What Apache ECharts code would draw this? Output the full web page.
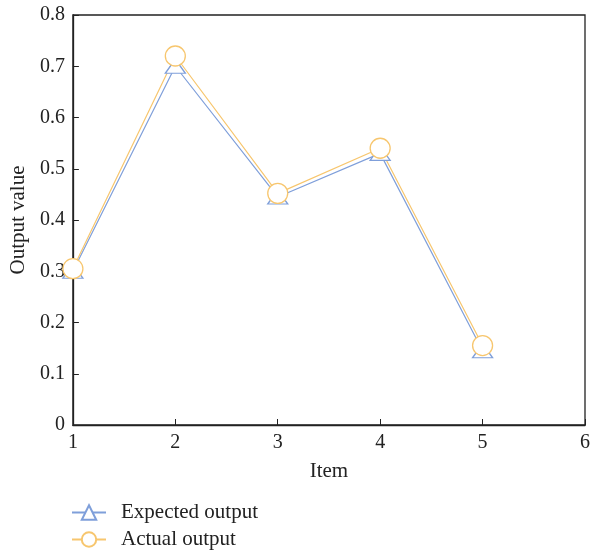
<!DOCTYPE html>
<html><head><meta charset="utf-8">
<script src="https://cdn.jsdelivr.net/npm/echarts@6/dist/echarts.min.js"></script>
<style>html,body{margin:0;padding:0;background:#fff}#c{width:593px;height:552px}</style>
</head><body><div id="c"></div>
<script>
const items = [1, 2, 3, 4, 5];
const expectedOutput = [0.30, 0.70, 0.445, 0.53, 0.145];
const actualOutput = [0.305, 0.72, 0.452, 0.54, 0.155];
const seriesNames = ['Expected output', 'Actual output'];
const FONT = 'Liberation Serif';
const chart = echarts.init(document.getElementById('c'));
const axisTxt = {color: '#222', fontFamily: FONT, fontSize: 20};
const nameTxt = {color: '#222', fontFamily: FONT, fontSize: 21};
const legendBase = {
  orient: 'vertical', left: 71, padding: 0, itemWidth: 34, itemHeight: 18,
  textStyle: {color: '#222', fontFamily: FONT, fontSize: 21, padding: [0, 0, 0, 10]}
};
chart.setOption({
  animation: false,
  grid: {left: 71, top: 15, right: 4, bottom: 127, show: true, borderColor: '#222', borderWidth: 1.3},
  xAxis: {
    type: 'value', min: 1, max: 6, interval: 1,
    name: 'Item', nameLocation: 'middle', nameGap: 36, nameTextStyle: nameTxt,
    axisLine: {lineStyle: {color: '#222', width: 1.3}},
    axisTick: {inside: true, length: 6, lineStyle: {color: '#222'}},
    axisLabel: Object.assign({margin: 8}, axisTxt),
    splitLine: {show: false}
  },
  yAxis: {
    type: 'value', min: 0, max: 0.8, interval: 0.1,
    name: 'Output value', nameLocation: 'middle', nameGap: 43, nameTextStyle: nameTxt,
    axisLine: {show: true, lineStyle: {color: '#222', width: 1.3}},
    axisTick: {show: true, inside: true, length: 6, lineStyle: {color: '#222'}},
    axisLabel: Object.assign({margin: 8}, axisTxt),
    splitLine: {show: false}
  },
  legend: [
    Object.assign({top: 502, data: [seriesNames[0]]}, legendBase),
    Object.assign({top: 529, data: [seriesNames[1]]}, legendBase)
  ],
  series: [
    {
      name: seriesNames[0], type: 'line',
      data: items.map((x, i) => [x, expectedOutput[i]]),
      symbol: 'triangle', symbolSize: [20, 14],
      lineStyle: {color: '#7F9FDA', width: 1.2},
      itemStyle: {color: '#fff', borderColor: '#7F9FDA', borderWidth: 1.3}
    },
    {
      name: seriesNames[1], type: 'line',
      data: items.map((x, i) => [x, actualOutput[i]]),
      symbol: 'circle', symbolSize: 20,
      lineStyle: {color: '#F7C66E', width: 1.2},
      itemStyle: {color: '#fff', borderColor: '#F7C66E', borderWidth: 1.3}
    }
  ]
});
</script></body></html>
